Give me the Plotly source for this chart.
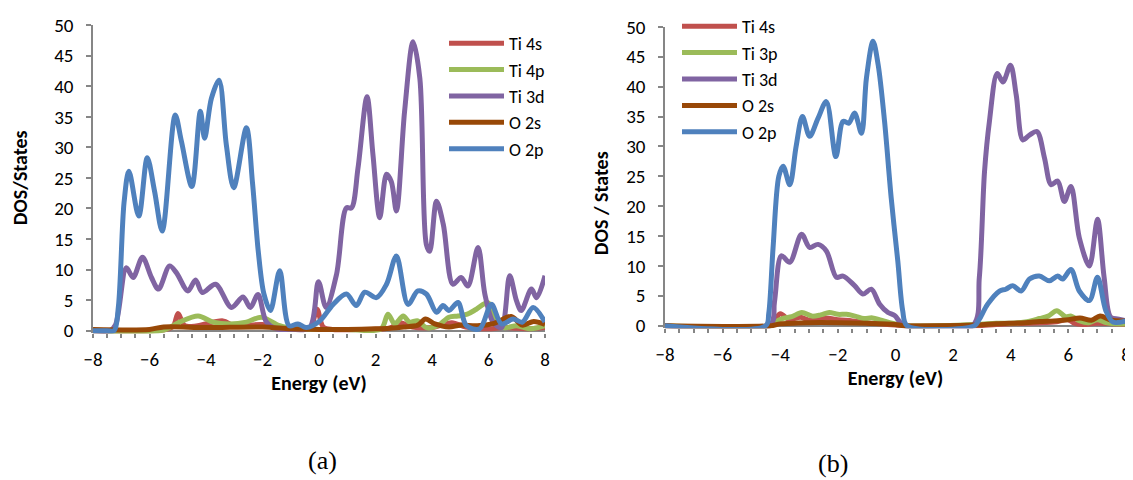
import plotly.graph_objects as go

# ---------------- Panel (a) data ----------------
a_ti4s_e = [-8, -5.4, -5.15, -4.99, -4.75, -4.3, -3.4, -3.0, -2.0, -1.4, -0.6, -0.3, -0.07, 0.15, 0.5, 1.5, 2.5, 2.85, 3.3, 4.0, 4.7, 5.2, 6.0, 6.5, 7.0, 7.5, 8.0]
a_ti4s_v = [0, 0.2, 0.8, 2.8, 0.8, 0.8, 1.6, 0.8, 1.0, 0.4, 0.3, 0.5, 3.5, 0.6, 0.2, 0.2, 0.4, 1.3, 0.6, 0.5, 1.3, 0.6, 0.3, 0.5, 0.4, 0.3, 0.5]

a_ti4p_e = [-8, -5.5, -4.93, -4.28, -3.75, -3.16, -2.57, -2.04, -1.39, -0.8, 0, 1.0, 2.2, 2.44, 2.68, 2.98, 3.2, 3.5, 3.8, 4.2, 4.6, 4.92, 5.25, 5.57, 5.98, 6.27, 6.55, 7.0, 7.5, 8.0]
a_ti4p_v = [0, 0.1, 1.4, 2.4, 1.4, 1.1, 1.4, 2.2, 0.8, 0.3, 0.2, 0.2, 0.3, 2.7, 1.1, 2.4, 1.4, 1.6, 0.5, 0.8, 2.2, 2.4, 2.7, 3.5, 4.6, 1.6, 0.5, 0.8, 0.3, 0.8]

a_ti3d_e = [-8, -7.4, -7.2, -6.82, -6.58, -6.25, -5.93, -5.68, -5.29, -5.05, -4.64, -4.37, -4.13, -3.66, -3.1, -2.69, -2.43, -2.16, -1.86, -1.5, -1.0, -0.33, -0.02, 0.25, 0.62, 0.97, 1.15, 1.38, 1.7, 1.91, 2.15, 2.39, 2.56, 2.74, 3.03, 3.33, 3.57, 3.8, 3.92, 4.16, 4.4, 4.74, 5.03, 5.27, 5.63, 5.87, 6.16, 6.46, 6.75, 6.99, 7.16, 7.52, 7.7, 8.0]
a_ti3d_v = [0, 0, 1, 10.3, 8.7, 12, 8.7, 6.8, 10.6, 9.5, 6.5, 8.3, 6.25, 7.6, 3.8, 5.5, 3.8, 5.9, 1.4, 0.3, 0.2, 0.5, 8, 3.8, 9.2, 20.1, 20.1, 26.6, 38.3, 28.8, 18.5, 25.6, 24.4, 19.6, 35.9, 47.3, 41.3, 14.1, 13, 21.2, 17.4, 7.6, 8.7, 7.3, 13.6, 6, 1.4, 0.5, 9, 4.9, 3.3, 6.8, 5.4, 9]

a_o2s_e = [-8, -6, -5.5, -4, -2, -1, 0, 1, 2, 2.5, 3.0, 3.5, 3.77, 4.1, 4.6, 5.0, 5.6, 6.2, 6.8, 7.2, 7.6, 8.0]
a_o2s_v = [0.2, 0.2, 0.6, 0.5, 0.6, 0.3, 0.2, 0.2, 0.3, 0.4, 0.6, 0.9, 1.9, 1.1, 0.6, 0.9, 0.8, 1.2, 2.3, 0.9, 1.5, 1.0]

a_o2p_e = [-8, -7.5, -7.25, -7.1, -6.9, -6.73, -6.38, -6.08, -5.82, -5.55, -5.09, -4.87, -4.5, -4.2, -4.05, -3.81, -3.54, -3.28, -3.02, -2.57, -2.35, -2.15, -1.95, -1.72, -1.39, -1.06, -0.75, -0.45, 0.03, 0.5, 0.97, 1.32, 1.62, 2.03, 2.39, 2.74, 3.15, 3.5, 3.8, 4.16, 4.39, 4.6, 4.92, 5.22, 5.69, 6.1, 6.46, 6.87, 7.2, 7.58, 8.0]
a_o2p_v = [0, 0, 0, 4, 21, 26.1, 18.75, 28.3, 22.8, 16.3, 35.3, 31, 23.6, 35.9, 31.5, 38, 41, 30.4, 23.4, 33.2, 24, 13, 6, 3.3, 9.8, 0.8, 1.1, 0.5, 1.6, 4.3, 6, 4.1, 6.3, 5.4, 7.6, 12.2, 4.3, 6.5, 6, 3, 4.1, 3.3, 4.6, 0.8, 0.3, 4.3, 1.1, 1.9, 1.4, 3.8, 1.4]

# ---------------- Panel (b) data ----------------
b_ti4s_e = [-8, -4.35, -4.0, -3.7, -3.3, -3.0, -2.7, -2.4, -2.0, -1.5, -1.0, -0.5, 0, 0.3, 2.8, 3.5, 4.5, 5.5, 6.0, 6.2, 6.5, 7.0, 8.0]
b_ti4s_v = [0, 0, 2.0, 1.0, 1.4, 0.9, 1.1, 1.3, 1.0, 0.8, 0.5, 0.3, 0.1, 0, 0, 0.2, 0.4, 0.6, 1.0, 0.4, 0.2, 0.4, 0.2]

b_ti3p_e = [-8, -4.3, -4.2, -3.9, -3.6, -3.25, -2.9, -2.6, -2.3, -2.0, -1.7, -1.4, -1.1, -0.8, -0.5, -0.2, 0.2, 0.35, 2.8, 3.5, 4.0, 4.5, 5.0, 5.3, 5.6, 5.9, 6.1, 6.4, 6.7, 7.0, 7.3, 7.6, 8.0]
b_ti3p_v = [0, 0, 0.5, 1.2, 1.5, 2.2, 1.6, 1.8, 2.2, 1.9, 1.9, 1.6, 1.2, 1.3, 0.9, 0.5, 0.1, 0, 0.2, 0.4, 0.4, 0.6, 1.2, 1.6, 2.5, 1.5, 1.6, 0.8, 0.5, 1.0, 0.5, 0.3, 0.3]

b_ti3d_e = [-8, -4.35, -4.2, -3.96, -3.67, -3.26, -2.98, -2.69, -2.4, -2.05, -1.82, -1.42, -1.13, -0.84, -0.55, -0.26, -0.03, 0.3, 2.68, 2.91, 3.09, 3.26, 3.53, 3.73, 3.99, 4.19, 4.42, 4.65, 4.91, 5.17, 5.4, 5.63, 5.86, 6.09, 6.38, 6.73, 7.01, 7.24, 7.47, 7.75, 8.0]
b_ti3d_v = [0, 0, 4, 11.7, 10.6, 15.3, 13.1, 13.6, 12.5, 8.1, 8.3, 6.7, 5.3, 6.1, 3.6, 2.2, 1.7, 0, 0, 8.1, 25.8, 34.2, 42.2, 40.8, 43.6, 38.6, 31.1, 31.9, 32.5, 28.1, 23.6, 24.2, 20.8, 23.3, 14.7, 10, 17.8, 8.1, 1.4, 1.1, 0.8]

b_o2s_e = [-8, -4.3, -4.0, -3.0, -2.0, -1.0, 0, 0.3, 2.8, 3.5, 4.5, 5.0, 5.5, 6.0, 6.4, 6.8, 7.1, 7.5, 8.0]
b_o2s_v = [0, 0, 0.3, 0.5, 0.5, 0.4, 0.2, 0, 0.1, 0.3, 0.5, 0.7, 0.8, 1.0, 1.3, 0.9, 1.6, 0.9, 0.8]

b_o2p_e = [-8, -4.5, -4.4, -4.25, -4.05, -3.9, -3.67, -3.45, -3.23, -2.98, -2.69, -2.4, -2.07, -1.82, -1.62, -1.42, -1.18, -1.01, -0.78, -0.6, -0.38, -0.15, 0.08, 0.25, 0.4, 2.74, 2.9, 3.2, 3.61, 3.83, 4.07, 4.36, 4.65, 4.99, 5.34, 5.63, 5.8, 6.09, 6.38, 6.73, 7.01, 7.3, 7.55, 8.0]
b_o2p_v = [0, 0, 2, 13, 25, 26.7, 23.6, 30, 35, 31.7, 34.7, 37.5, 28.3, 34.2, 33.9, 35.6, 32.2, 41.4, 47.6, 43.6, 34.2, 21.4, 10.8, 2.5, 0, 0, 1, 3.6, 5.8, 6.1, 6.7, 5.8, 7.8, 8.3, 7.5, 8.3, 7.8, 9.4, 5.8, 4.2, 8.1, 2.5, 0.6, 0.8]

names_a = ["Ti 4s", "Ti 4p", "Ti 3d", "O 2s", "O 2p"]
names_b = ["Ti 4s", "Ti 3p", "Ti 3d", "O 2s", "O 2p"]
colors = ["#C0504D", "#9BBB59", "#8064A2", "#984807", "#4F81BD"]

series_a = [(a_ti4s_e, a_ti4s_v), (a_ti4p_e, a_ti4p_v), (a_ti3d_e, a_ti3d_v), (a_o2s_e, a_o2s_v), (a_o2p_e, a_o2p_v)]
series_b = [(b_ti4s_e, b_ti4s_v), (b_ti3p_e, b_ti3p_v), (b_ti3d_e, b_ti3d_v), (b_o2s_e, b_o2s_v), (b_o2p_e, b_o2p_v)]

# page body has an 8px margin: figure is sized/positioned to fill the 1133x480 window
OFF = 8
W, H = 1133 - OFF, 480 - OFF


def px(x):
    return (x - OFF) / W


def py(y):
    return (H - (y - OFF)) / H


FONT = "Carlito, Calibri, Lato, sans-serif"
SERIF = "Liberation Serif, Times New Roman, serif"
AX = "#868686"
TICK = 19
TITLE = 20
YPAD = 0.45   # small room below zero so the thick zero-level lines are not clipped
LEG_ITEM_W = 55

fig = go.Figure()
for (e, v), n, c in zip(series_a, names_a, colors):
    fig.add_trace(go.Scatter(x=e, y=v, name=n, mode="lines",
                             line=dict(color=c, width=5, shape="spline", smoothing=0.9),
                             xaxis="x", yaxis="y", legend="legend"))
for (e, v), n, c in zip(series_b, names_b, colors):
    fig.add_trace(go.Scatter(x=e, y=v, name=n, mode="lines",
                             line=dict(color=c, width=5, shape="spline", smoothing=0.9),
                             xaxis="x2", yaxis="y2", legend="legend2"))


def xax(domain, anchor):
    return dict(domain=domain, anchor=anchor, range=[-8, 8], dtick=2, tick0=-8,
                showgrid=False, zeroline=False, showline=False,
                ticks="outside", ticklen=4, tickcolor=AX, tickwidth=1.5,
                minor=dict(dtick=0.5, tick0=-8, ticks="outside", ticklen=4, tickcolor=AX, tickwidth=1.5, showgrid=False),
                tickfont=dict(family=FONT, size=TICK, color="#000"), ticklabelstandoff=5,
                ticklabeloverflow="allow",
                title=dict(text="<b>Energy (eV)</b>", font=dict(family=FONT, size=TITLE, color="#000"), standoff=4),
                automargin=False)


def yax(domain, anchor):
    return dict(domain=domain, anchor=anchor, range=[-YPAD, 50], dtick=5, tick0=0,
                showgrid=False, zeroline=True, zerolinecolor=AX, zerolinewidth=1.5,
                showline=True, linecolor=AX, linewidth=1.5,
                ticks="outside", ticklen=5, tickcolor=AX, tickwidth=1.5,
                tickfont=dict(family=FONT, size=TICK, color="#000"), ticklabelstandoff=9,
                ticklabeloverflow="allow",
                automargin=False)


def ydomain(y0_px, y50_px):
    scale = (y0_px - y50_px) / 50.0
    return [py(y0_px + YPAD * scale), py(y50_px)]


fig.update_layout(
    width=W, height=H,
    margin=dict(l=0, r=0, t=0, b=0),
    paper_bgcolor="white", plot_bgcolor="white",
    xaxis=xax([px(93), px(545)], "y"),
    yaxis=yax(ydomain(330, 23.3), "x"),
    xaxis2=xax([px(665), px(1126)], "y2"),
    yaxis2=yax(ydomain(325, 25), "x2"),
    legend=dict(x=px(469 - (LEG_ITEM_W - 30)), y=py(23), xanchor="left", yanchor="top",
                itemwidth=LEG_ITEM_W,
                font=dict(family=FONT, size=18, color="#000"), bgcolor="rgba(0,0,0,0)",
                tracegroupgap=0),
    legend2=dict(x=px(702 - (LEG_ITEM_W - 30)), y=py(6), xanchor="left", yanchor="top",
                 itemwidth=LEG_ITEM_W,
                 font=dict(family=FONT, size=18, color="#000"), bgcolor="rgba(0,0,0,0)",
                 tracegroupgap=0),
    showlegend=True,
    annotations=[
        dict(text="<b>DOS/States</b>", x=px(20), y=py(177), xref="paper", yref="paper",
             xanchor="center", yanchor="middle",
             textangle=-90, showarrow=False, font=dict(family=FONT, size=TITLE, color="#000")),
        dict(text="<b>DOS / States</b>", x=px(601), y=py(202), xref="paper", yref="paper",
             xanchor="center", yanchor="middle",
             textangle=-90, showarrow=False, font=dict(family=FONT, size=TITLE, color="#000")),
        dict(text="(a)", x=px(322), y=py(460), xref="paper", yref="paper",
             xanchor="center", yanchor="middle",
             showarrow=False, font=dict(family=SERIF, size=26, color="#000")),
        dict(text="(b)", x=px(833), y=py(463), xref="paper", yref="paper",
             xanchor="center", yanchor="middle",
             showarrow=False, font=dict(family=SERIF, size=26, color="#000")),
    ],
)

fig.write_html("out.html")
